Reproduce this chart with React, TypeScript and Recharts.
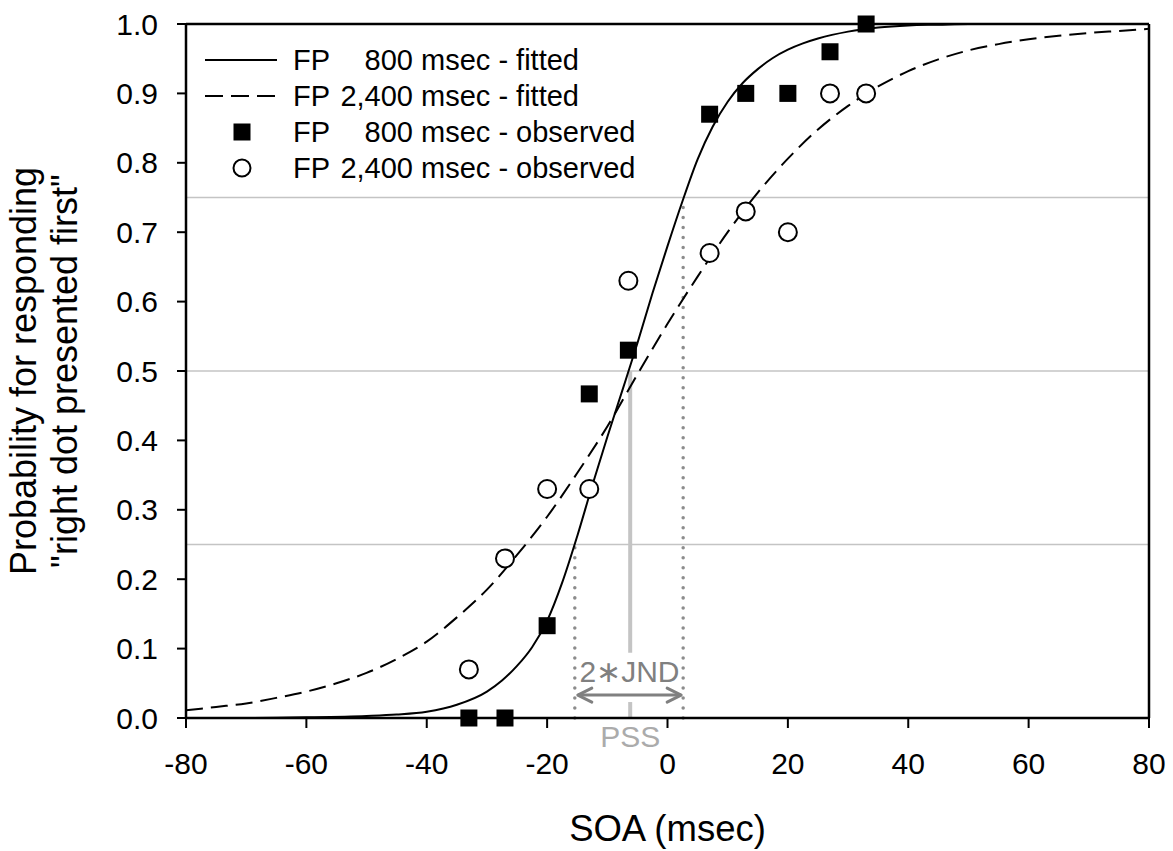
import React from 'react';
import {
  ComposedChart,
  Line,
  Scatter,
  XAxis,
  YAxis,
  ReferenceLine,
  Legend,
  Label,
} from 'recharts';

const FONT = '"Liberation Sans", Arial, Helvetica, sans-serif';

const fit800SOA = [
  -80, -70, -60, -50, -45, -40, -35, -30, -27.5, -25, -22.5, -20, -17.5, -15, -12.5, -10, -7.5, -5,
  -2.5, 0, 2.5, 5, 7.5, 10, 12.5, 15, 17.5, 20, 22.5, 25, 30, 35, 40, 45, 50, 60, 70, 80,
];
const fp800Fitted = [
  0.0, 0.0, 0.001, 0.003, 0.005, 0.009, 0.019, 0.038, 0.054, 0.075, 0.102, 0.14, 0.195, 0.262,
  0.335, 0.405, 0.472, 0.54, 0.612, 0.68, 0.745, 0.805, 0.852, 0.888, 0.915, 0.935, 0.951, 0.963,
  0.972, 0.979, 0.989, 0.995, 0.998, 0.999, 1.0, 1.0, 1.0, 1.0,
];

const fit2400SOA = [
  -80, -75, -70, -65, -60, -55, -50, -45, -40, -35, -30, -25, -20, -15, -10, -5, 0, 5, 10, 15, 20,
  25, 30, 35, 40, 45, 50, 55, 60, 65, 70, 75, 80,
];
const fp2400Fitted = [
  0.011, 0.016, 0.021, 0.029, 0.038, 0.05, 0.065, 0.085, 0.11, 0.145, 0.185, 0.235, 0.29, 0.353,
  0.42, 0.495, 0.568, 0.636, 0.7, 0.757, 0.806, 0.848, 0.882, 0.91, 0.932, 0.949, 0.962, 0.971,
  0.978, 0.983, 0.987, 0.99, 0.993,
];

// observed proportions
const obsSOA = [-33, -27, -20, -13, -6.5, 7, 13, 20, 27, 33];
const fp800Observed = [0.0, 0.0, 0.133, 0.467, 0.53, 0.87, 0.9, 0.9, 0.96, 1.0];
const fp2400Observed = [0.07, 0.23, 0.33, 0.33, 0.63, 0.67, 0.73, 0.7, 0.9, 0.9];

const xTicks = [-80, -60, -40, -20, 0, 20, 40, 60, 80];
const yTicks = [0, 0.1, 0.2, 0.3, 0.4, 0.5, 0.6, 0.7, 0.8, 0.9, 1.0];
const gridLevels = [0.25, 0.5, 0.75];

// PSS / JND annotation values
const pssSOA = -6.2;
const jndLowSOA = -15.4;
const jndHighSOA = 2.6;
const jndLowP = 0.25;
const jndHighP = 0.75;
const pssTopP = 0.5;
const pssGapTopP = 0.094;
const pssGapBottomP = 0.023;
const arrowP = 0.033;

const legendNumbers = ['800', '2,400', '800', '2,400'];
const legendSuffixes = ['msec - fitted', 'msec - fitted', 'msec - observed', 'msec - observed'];
const legendKinds = ['solid', 'dashed', 'square', 'circle'];

const fitted800 = fit800SOA.map((x, i) => ({ x, y: fp800Fitted[i] }));
const fitted2400 = fit2400SOA.map((x, i) => ({ x, y: fp2400Fitted[i] }));
const observed800 = obsSOA.map((x, i) => ({ x, y: fp800Observed[i] }));
const observed2400 = obsSOA.map((x, i) => ({ x, y: fp2400Observed[i] }));

const SquareShape = (p: any) => (
  <rect x={p.cx - 8.5} y={p.cy - 8.5} width={17} height={17} fill="#000" />
);
const CircleShape = (p: any) => (
  <circle cx={p.cx} cy={p.cy} r={9} fill="#fff" stroke="#000" strokeWidth={2} />
);

const DottedShape = (p: any) => (
  <line
    x1={p.x1}
    y1={p.y1}
    x2={p.x2}
    y2={p.y2}
    stroke="#8c8c8c"
    strokeWidth={3.5}
    strokeDasharray="0.01 10"
    strokeLinecap="round"
  />
);

const PssUpperShape = (p: any) => (
  <line x1={p.x1} y1={p.y1} x2={p.x2} y2={p.y2} stroke="#c4c4c4" strokeWidth={4} />
);

const PssLowerShape = (p: any) => (
  <g>
    <line x1={p.x1} y1={p.y1} x2={p.x2} y2={p.y2} stroke="#c4c4c4" strokeWidth={4} />
    <text
      x={p.x1}
      y={Math.max(p.y1, p.y2) + 29}
      textAnchor="middle"
      fontSize={30}
      fontFamily={FONT}
      fill="#ababab"
    >
      PSS
    </text>
  </g>
);

const ArrowShape = (p: any) => {
  const left = Math.min(p.x1, p.x2) + 3;
  const right = Math.max(p.x1, p.x2) - 2;
  const y = p.y1;
  const h = 14;
  const w = 7;
  const c = '#808080';
  return (
    <g>
      <line x1={left} y1={y} x2={right} y2={y} stroke={c} strokeWidth={3} />
      <polyline
        points={`${left + h},${y - w} ${left},${y} ${left + h},${y + w}`}
        fill="none"
        stroke={c}
        strokeWidth={3}
        strokeLinecap="round"
        strokeLinejoin="round"
      />
      <polyline
        points={`${right - h},${y - w} ${right},${y} ${right - h},${y + w}`}
        fill="none"
        stroke={c}
        strokeWidth={3}
        strokeLinecap="round"
        strokeLinejoin="round"
      />
      <text
        x={(left + right) / 2}
        y={y - 13}
        textAnchor="middle"
        fontSize={30}
        fontFamily={FONT}
        fill={c}
      >
        2∗JND
      </text>
    </g>
  );
};

const YTitle = (props: any) => {
  const vb = props.viewBox || { x: 0, y: 24, width: 186, height: 694 };
  const cy = vb.y + vb.height / 2;
  const x1 = vb.x + 36;
  const x2 = vb.x + 77;
  return (
    <g>
      <text
        x={x1}
        y={cy}
        transform={`rotate(-90, ${x1}, ${cy})`}
        textAnchor="middle"
        fontSize={36}
        fontFamily={FONT}
        fill="#000"
      >
        Probability for responding
      </text>
      <text
        x={x2}
        y={cy}
        transform={`rotate(-90, ${x2}, ${cy})`}
        textAnchor="middle"
        fontSize={36}
        fontFamily={FONT}
        fill="#000"
      >
        "right dot presented first"
      </text>
    </g>
  );
};

const XTitle = (props: any) => {
  const vb = props.viewBox || { x: 186, y: 718, width: 963, height: 133 };
  return (
    <text
      x={vb.x + vb.width / 2}
      y={vb.y + 123}
      textAnchor="middle"
      fontSize={36.5}
      fontFamily={FONT}
      fill="#000"
    >
      SOA (msec)
    </text>
  );
};

const LegendSymbol = ({ kind }: { kind: string }) => (
  <svg width={72} height={36} style={{ display: 'block', overflow: 'visible' }}>
    {kind === 'solid' && <line x1={0} y1={18} x2={72} y2={18} stroke="#000" strokeWidth={2} />}
    {kind === 'dashed' && (
      <line x1={0} y1={18} x2={72} y2={18} stroke="#000" strokeWidth={2} strokeDasharray="18 8" />
    )}
    {kind === 'square' && <rect x={28.5} y={9.5} width={17} height={17} fill="#000" />}
    {kind === 'circle' && (
      <circle cx={37} cy={18} r={8.5} fill="#fff" stroke="#000" strokeWidth={2} />
    )}
  </svg>
);

const LegendContent = () => (
  <div style={{ fontFamily: FONT, fontSize: 29, color: '#000' }}>
    {legendKinds.map((kind, i) => (
      <div
        key={i}
        style={{ display: 'flex', alignItems: 'center', height: 36, whiteSpace: 'pre' }}
      >
        <LegendSymbol kind={kind} />
        <span style={{ marginLeft: 16, display: 'inline-block', width: 34 }}>FP</span>
        <span style={{ display: 'inline-block', width: 86, textAlign: 'right' }}>
          {legendNumbers[i]}
        </span>
        <span>{' ' + legendSuffixes[i]}</span>
      </div>
    ))}
  </div>
);

export default function App() {
  return (
    <div
      style={{
        position: 'absolute',
        left: 0,
        top: 0,
        width: 1173,
        height: 851,
        background: '#fff',
        overflow: 'hidden',
      }}
    >
      <ComposedChart
        width={1173}
        height={851}
        margin={{ top: 24, right: 24, bottom: 0, left: 0 }}
      >
        <XAxis
          type="number"
          dataKey="x"
          domain={[-80, 80]}
          ticks={xTicks}
          height={133}
          tickSize={10}
          tickMargin={25}
          axisLine={{ stroke: '#000', strokeWidth: 2.5 }}
          tickLine={{ stroke: '#000', strokeWidth: 2 }}
          tick={{ fill: '#000', fontSize: 30, fontFamily: FONT }}
        >
          <Label content={XTitle} />
        </XAxis>
        <YAxis
          type="number"
          dataKey="y"
          domain={[0, 1]}
          ticks={yTicks}
          width={186}
          tickSize={9}
          tickMargin={19}
          tickFormatter={(v: number) => v.toFixed(1)}
          axisLine={{ stroke: '#000', strokeWidth: 2.5 }}
          tickLine={{ stroke: '#000', strokeWidth: 2 }}
          tick={{ fill: '#000', fontSize: 30, fontFamily: FONT }}
        >
          <Label content={YTitle} />
        </YAxis>

        {gridLevels.map((g) => (
          <ReferenceLine key={g} y={g} stroke="#c4c4c4" strokeWidth={1.5} />
        ))}
        <ReferenceLine y={1} stroke="#000" strokeWidth={2.5} />
        <ReferenceLine x={80} stroke="#000" strokeWidth={2.5} />

        <ReferenceLine
          segment={[
            { x: jndLowSOA, y: 0 },
            { x: jndLowSOA, y: jndLowP },
          ]}
          shape={DottedShape}
        />
        <ReferenceLine
          segment={[
            { x: jndHighSOA, y: 0 },
            { x: jndHighSOA, y: jndHighP },
          ]}
          shape={DottedShape}
        />
        <ReferenceLine
          segment={[
            { x: pssSOA, y: pssGapTopP },
            { x: pssSOA, y: pssTopP },
          ]}
          shape={PssUpperShape}
        />
        <ReferenceLine
          segment={[
            { x: pssSOA, y: 0 },
            { x: pssSOA, y: pssGapBottomP },
          ]}
          shape={PssLowerShape}
        />
        <ReferenceLine
          segment={[
            { x: jndLowSOA, y: arrowP },
            { x: jndHighSOA, y: arrowP },
          ]}
          shape={ArrowShape}
        />

        <Line
          data={fitted800}
          dataKey="y"
          type="monotone"
          stroke="#000"
          strokeWidth={2}
          dot={false}
          activeDot={false}
          isAnimationActive={false}
          name="FP 800 msec - fitted"
        />
        <Line
          data={fitted2400}
          dataKey="y"
          type="monotone"
          stroke="#000"
          strokeWidth={2}
          strokeDasharray="17 8"
          dot={false}
          activeDot={false}
          isAnimationActive={false}
          name="FP 2,400 msec - fitted"
        />
        <Scatter
          data={observed800}
          dataKey="y"
          shape={SquareShape}
          isAnimationActive={false}
          name="FP 800 msec - observed"
        />
        <Scatter
          data={observed2400}
          dataKey="y"
          shape={CircleShape}
          isAnimationActive={false}
          name="FP 2,400 msec - observed"
        />
        <Legend
          layout="vertical"
          align="center"
          verticalAlign="middle"
          content={LegendContent}
          wrapperStyle={{ top: 42, left: 205, width: 480, height: 144 }}
        />
      </ComposedChart>
    </div>
  );
}
